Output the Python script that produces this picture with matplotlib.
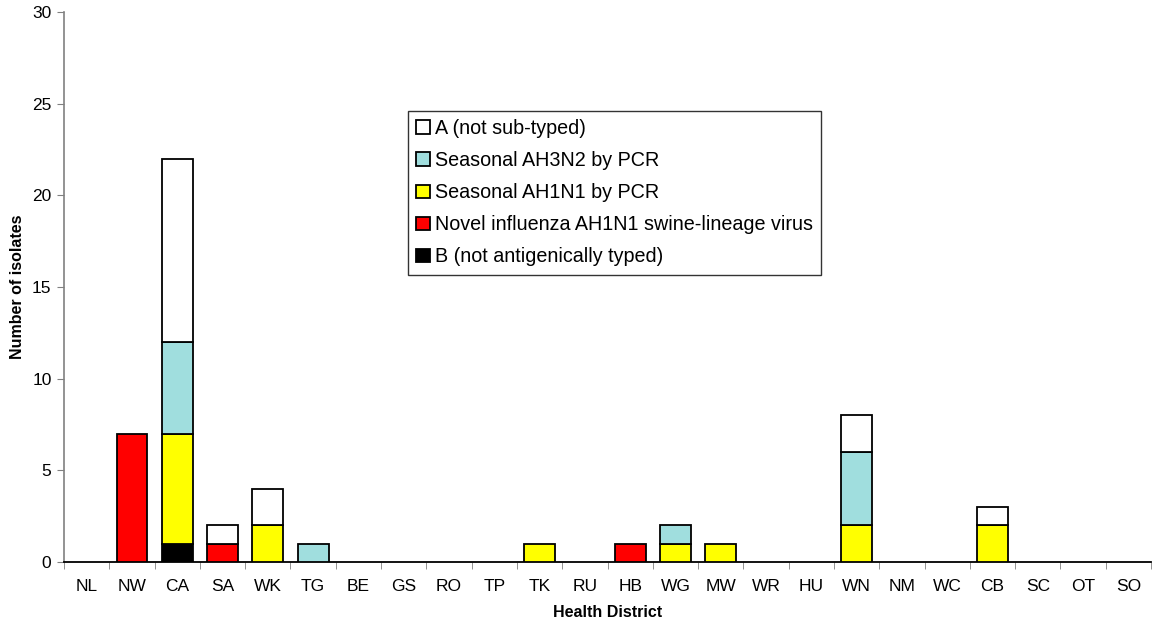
import matplotlib
matplotlib.use("Agg")
import matplotlib.pyplot as plt
import numpy as np

districts = ["NL","NW","CA","SA","WK","TG","BE","GS","RO","TP","TK","RU",
             "HB","WG","MW","WR","HU","WN","NM","WC","CB","SC","OT","SO"]
b_untyped    = [0,0,1,0,0,0,0,0,0,0,0,0,0,0,0,0,0,0,0,0,0,0,0,0]
novel_h1n1   = [0,7,0,1,0,0,0,0,0,0,0,0,1,0,0,0,0,0,0,0,0,0,0,0]
seasonal_h1  = [0,0,6,0,2,0,0,0,0,0,1,0,0,1,1,0,0,2,0,0,2,0,0,0]
seasonal_h3  = [0,0,5,0,0,1,0,0,0,0,0,0,0,1,0,0,0,4,0,0,0,0,0,0]
a_untyped    = [0,0,10,1,2,0,0,0,0,0,0,0,0,0,0,0,0,2,0,0,1,0,0,0]

series = [
    ("B (not antigenically typed)", b_untyped, "#000000"),
    ("Novel influenza AH1N1 swine-lineage virus", novel_h1n1, "#FF0000"),
    ("Seasonal AH1N1 by PCR", seasonal_h1, "#FFFF00"),
    ("Seasonal AH3N2 by PCR", seasonal_h3, "#A0DEDE"),
    ("A (not sub-typed)", a_untyped, "#FFFFFF"),
]

plt.rcParams['font.family'] = ['Liberation Sans', 'DejaVu Sans']
fig = plt.figure(figsize=(11.52, 6.23), dpi=100)
ax = fig.add_axes([64/1152, 1-562/623, (1151-64)/1152, 550/623])

x = np.arange(len(districts))
bottom = np.zeros(len(districts))
handles = []
for name, vals, col in series:
    v = np.array(vals, dtype=float)
    mask = v > 0
    h = ax.bar(x[mask], v[mask], bottom=bottom[mask], width=0.68, color=col,
               edgecolor="black", linewidth=1.3, label=name, zorder=3)
    handles.append(h)
    bottom += v

ax.set_xlim(-0.5, len(districts) - 0.5)
ax.set_ylim(0, 30)
ax.set_yticks(range(0, 31, 5))
ax.set_xticks(x)
ax.set_xticklabels(districts, fontsize=12.5)
ax.set_xticks(np.arange(-0.5, len(districts), 1), minor=True)
ax.tick_params(axis='x', which='major', length=0, pad=12)
ax.tick_params(axis='x', which='minor', length=5, color="#808080", direction='out')
ax.tick_params(axis='y', length=5, color="#808080", labelsize=12.5, direction='out', pad=4)

for s in ["top", "right"]:
    ax.spines[s].set_visible(False)
ax.spines["left"].set_color("#808080")
ax.spines["left"].set_linewidth(1.2)
ax.spines["bottom"].set_color("black")
ax.spines["bottom"].set_linewidth(1.3)

ax.set_ylabel("Number of isolates", fontsize=11.5, fontweight="bold", labelpad=5)
ax.set_xlabel("Health District", fontsize=11.5, fontweight="bold", labelpad=8)

leg = ax.legend(handles[::-1], [s[0] for s in series[::-1]],
                loc="upper left", bbox_to_anchor=((408-64)/1087, (562-111)/550),
                fontsize=14.2, frameon=True, fancybox=False, handlelength=0.7,
                handleheight=0.7, handletextpad=0.25, labelspacing=0.66,
                borderpad=0.42, borderaxespad=0)
leg.get_frame().set_edgecolor("black")
leg.get_frame().set_linewidth(1.0)

fig.savefig("out.png", dpi=100)
